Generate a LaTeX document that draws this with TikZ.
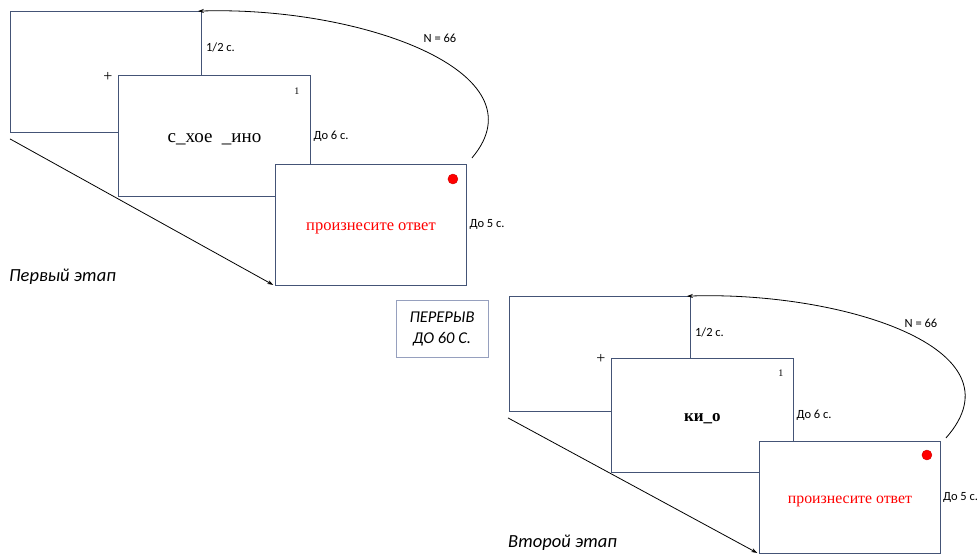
\documentclass[tikz,border=0pt]{standalone}
\usepackage{fontspec}
\setmainfont{Liberation Serif}
\newfontfamily\labelfont{Carlito}
\usetikzlibrary{arrows.meta,positioning,calc}
\definecolor{frameblue}{RGB}{68,84,118}
\definecolor{pauseblue}{RGB}{150,160,190}
\definecolor{cuered}{RGB}{255,0,0}

\begin{document}
\begin{tikzpicture}[x=1pt, y=-1pt,
    screen/.style={rectangle, draw=frameblue, fill=white, line width=0.9pt,
        anchor=north west, inner sep=0pt},
    bigscreen/.style={screen, minimum width=191pt, minimum height=121pt},
    smallscreen/.style={screen, minimum width=181pt, minimum height=115pt},
    tlabel/.style={font=\labelfont\fontsize{12.5}{15}\selectfont, inner sep=1pt},
    stagelabel/.style={font=\labelfont\itshape\fontsize{18.5}{22}\selectfont, inner sep=0pt},
    pausebox/.style={rectangle, draw=pauseblue, line width=0.8pt, minimum width=92pt,
        minimum height=57pt, align=center, inner sep=0pt,
        font=\labelfont\itshape\fontsize{16.5}{21}\selectfont},
    cue/.style={circle, fill=cuered, draw=cuered!80!black, line width=0.4pt,
        minimum size=10pt, inner sep=0pt},
    cross/.style={font=\fontsize{16}{16}\selectfont, inner sep=0pt},
    trialno/.style={font=\fontsize{10}{12}\selectfont, inner sep=0pt},
    arr/.style={-{Stealth[length=6pt,width=4pt]}, line width=0.8pt}
]
\useasboundingbox (0,0) rectangle (977,555);

% first stage
\node[bigscreen] (a1) at (10,11) {};
\node[bigscreen, minimum width=192pt] (b1) at (118,75) {\raisebox{-6.5pt}[0pt][0pt]{\fontsize{19}{22}\selectfont с\_хое \ \_ино}};
\node[bigscreen] (c1) at (275,164) {\raisebox{-6pt}[0pt][0pt]{\color{cuered}\fontsize{16.5}{20}\selectfont произнесите ответ}};
\node[cross] (fix1) at ($(b1.north west)+(-10,2)$) {+};
\node[trialno] (num1) at ($(b1.north east)+(-14,16)$) {1};
\node[cue] (cue1) at ($(c1.north east)+(-14,15)$) {};
\node[tlabel, anchor=west] (half1) at ($(a1.north east)+(3,36)$) {1/2 с.};
\node[tlabel, right=1.5pt of b1] (upto6a) {До 6 с.};
\node[tlabel, right=1.5pt of c1] (upto5a) {До 5 с.};
\node[tlabel] (n1) at (440,38) {N = 66};
\draw[arr, shorten >=2pt] ($(a1.south west)+(0,6)$) -- (c1.south west);
\draw[arr, shorten >=-4pt] ($(c1.north east)+(5,-6)$) .. controls (545,72) and (360,6) .. (a1.north east);
\node[stagelabel, anchor=west] (stage1) at (9,277) {Первый этап};

% pause
\node[pausebox] (pause) at (442,328.5) {ПЕРЕРЫВ\\ДО 60 С.};

% second stage
\node[smallscreen] (a2) at (509,296) {};
\node[smallscreen, minimum width=182pt, minimum height=114pt] (b2) at (611,358) {\raisebox{-6.5pt}[0pt][0pt]{\bfseries\fontsize{17}{20}\selectfont ки\_о}};
\node[smallscreen, minimum height=112pt] (c2) at (759,441) {\raisebox{-6pt}[0pt][0pt]{\color{cuered}\fontsize{15.8}{19}\selectfont произнесите ответ}};
\node[cross] (fix2) at ($(b2.north west)+(-10,1)$) {+};
\node[trialno] (num2) at ($(b2.north east)+(-13,15)$) {1};
\node[cue] (cue2) at ($(c2.north east)+(-14,14)$) {};
\node[tlabel, anchor=west] (half2) at ($(a2.north east)+(3,36)$) {1/2 с.};
\node[tlabel, right=1.5pt of b2] (upto6b) {До 6 с.};
\node[tlabel, right=1pt of c2] (upto5b) {До 5 с.};
\node[tlabel] (n2) at (921,323) {N = 66};
\draw[arr, shorten >=2pt] ($(a2.south west)+(-1,6)$) -- (c2.south west);
\draw[arr, shorten >=-4pt] ($(c2.north east)+(5,-3)$) .. controls (1026,348) and (840,291) .. (a2.north east);
\node[stagelabel, anchor=west] (stage2) at (508,543) {Второй этап};
\end{tikzpicture}
\end{document}
